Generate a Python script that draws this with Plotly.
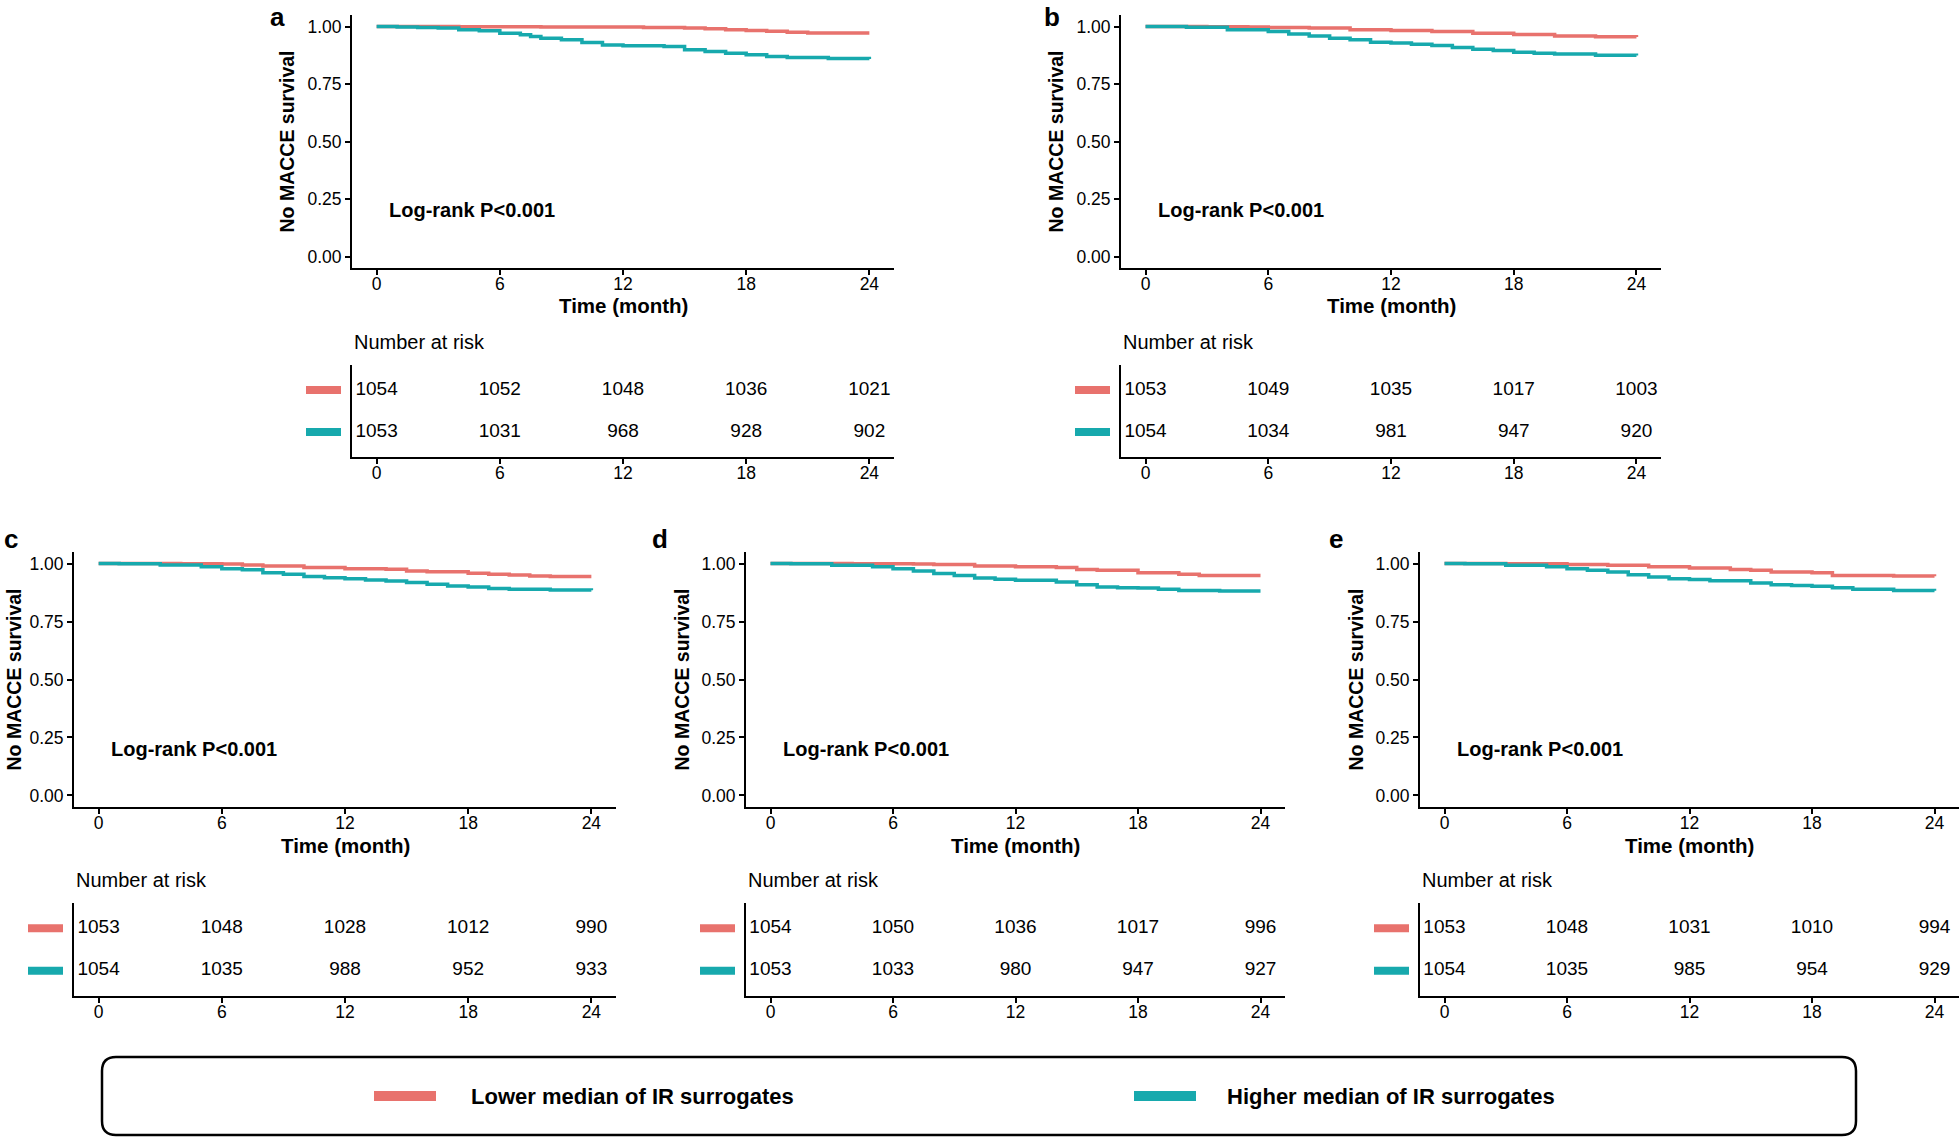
import plotly.graph_objects as go

W, H = 1960, 1138

# ---------------- data ----------------
panel_labels = ["a", "b", "c", "d", "e"]
series_names = ["Lower median of IR surrogates", "Higher median of IR surrogates"]
risk_times = [0, 6, 12, 18, 24]

a_low_t = [0, 4, 8, 13, 15, 16, 17, 18, 19, 20, 21, 24]
a_low_s = [1.000, 0.999, 0.998, 0.996, 0.993, 0.990, 0.986, 0.983, 0.979, 0.975, 0.972, 0.972]
a_high_t = [0, 1, 2, 3, 4, 5, 6, 7, 7.5, 8, 9, 10, 11, 12, 14, 15, 16, 17, 18, 19, 20, 22, 24]
a_high_s = [1.000, 0.998, 0.996, 0.993, 0.986, 0.981, 0.971, 0.964, 0.957, 0.949, 0.942, 0.930,
            0.920, 0.916, 0.913, 0.899, 0.891, 0.884, 0.877, 0.870, 0.865, 0.861, 0.859]

b_low_t = [0, 3, 5, 6, 8, 10, 12, 14, 16, 18, 20, 22, 24]
b_low_s = [1.000, 0.999, 0.998, 0.996, 0.993, 0.986, 0.983, 0.978, 0.971, 0.965, 0.959, 0.955, 0.954]
b_high_t = [0, 2, 4, 6, 7, 8, 9, 10, 11, 12, 13, 14, 15, 16, 17, 18, 19, 20, 22, 24]
b_high_s = [1.000, 0.997, 0.986, 0.978, 0.967, 0.959, 0.949, 0.942, 0.932, 0.928, 0.923, 0.917,
            0.909, 0.901, 0.896, 0.888, 0.884, 0.880, 0.875, 0.874]

c_low_t = [0, 4, 6, 7, 8, 10, 12, 14, 15, 16, 18, 19, 20, 21, 22, 24]
c_low_s = [1.000, 0.999, 0.998, 0.994, 0.990, 0.983, 0.978, 0.976, 0.968, 0.965, 0.958, 0.954,
           0.951, 0.947, 0.944, 0.944]
c_high_t = [0, 1, 3, 5, 6, 7, 8, 9, 10, 11, 12, 13, 14, 15, 16, 17, 18, 19, 20, 22, 24]
c_high_s = [1.000, 0.999, 0.994, 0.986, 0.978, 0.973, 0.961, 0.954, 0.944, 0.939, 0.935, 0.929,
            0.925, 0.918, 0.911, 0.903, 0.899, 0.893, 0.889, 0.886, 0.885]

d_low_t = [0, 4, 7, 8, 10, 12, 14, 15, 16, 18, 20, 21, 24]
d_low_s = [1.000, 0.999, 0.998, 0.996, 0.990, 0.986, 0.983, 0.975, 0.971, 0.961, 0.954, 0.949, 0.949]
d_high_t = [0, 1, 3, 5, 6, 7, 8, 9, 10, 11, 12, 14, 15, 16, 17, 18, 19, 20, 22, 24]
d_high_s = [1.000, 0.999, 0.993, 0.986, 0.978, 0.968, 0.957, 0.949, 0.938, 0.932, 0.928, 0.921,
            0.909, 0.899, 0.896, 0.895, 0.889, 0.884, 0.882, 0.882]

e_low_t = [0, 3, 6, 8, 10, 12, 14, 15, 16, 18, 19, 22, 24]
e_low_s = [1.000, 0.999, 0.996, 0.993, 0.986, 0.981, 0.975, 0.971, 0.964, 0.960, 0.949, 0.947, 0.945]
e_high_t = [0, 1, 3, 5, 6, 7, 8, 9, 10, 11, 12, 13, 15, 16, 17, 18, 19, 20, 22, 24]
e_high_s = [1.000, 0.999, 0.993, 0.986, 0.978, 0.971, 0.964, 0.952, 0.942, 0.935, 0.931, 0.926,
            0.916, 0.909, 0.906, 0.902, 0.896, 0.889, 0.884, 0.883]

a_risk_low = [1054, 1052, 1048, 1036, 1021]
a_risk_high = [1053, 1031, 968, 928, 902]
b_risk_low = [1053, 1049, 1035, 1017, 1003]
b_risk_high = [1054, 1034, 981, 947, 920]
c_risk_low = [1053, 1048, 1028, 1012, 990]
c_risk_high = [1054, 1035, 988, 952, 933]
d_risk_low = [1054, 1050, 1036, 1017, 996]
d_risk_high = [1053, 1033, 980, 947, 927]
e_risk_low = [1053, 1048, 1031, 1010, 994]
e_risk_high = [1054, 1035, 985, 954, 929]

curves = [
    (a_low_t, a_low_s, a_high_t, a_high_s),
    (b_low_t, b_low_s, b_high_t, b_high_s),
    (c_low_t, c_low_s, c_high_t, c_high_s),
    (d_low_t, d_low_s, d_high_t, d_high_s),
    (e_low_t, e_low_s, e_high_t, e_high_s),
]
risks = [
    (a_risk_low, a_risk_high), (b_risk_low, b_risk_high), (c_risk_low, c_risk_high),
    (d_risk_low, d_risk_high), (e_risk_low, e_risk_high),
]

# ---------------- style / layout ----------------
RED = "#E8726D"
TEAL = "#17A9AD"
FONT = "Liberation Sans, Arial, sans-serif"

# pixel boxes (screen coords): (x0, x1, y_top, y_bottom)
km_boxes = [(352, 894, 15, 268), (1121, 1661, 15, 268), (74, 616, 552, 807),
            (746, 1285, 552, 807), (1420, 1959, 552, 807)]
rt_boxes = [(352, 894, 365, 457), (1121, 1661, 365, 457), (74, 616, 903, 996),
            (746, 1285, 903, 996), (1420, 1959, 903, 996)]
label_pos = [(277, 0), (1052, 0), (11, 522), (660, 522), (1336, 522)]


def px(x):
    return x / W


def py(y):
    return 1 - y / H


def xd(x0, x1):
    return [px(x0), px(x1)]


def yd(y0, y1):
    return [py(y1), py(y0)]


fig = go.Figure()
layout = {}
annotations = []
shapes = []

for i in range(5):
    k = i + 1
    r = i + 6
    kx = "x" if k == 1 else f"x{k}"
    ky = "y" if k == 1 else f"y{k}"
    rx, ry = f"x{r}", f"y{r}"
    lt, ls, ht, hs = curves[i]

    fig.add_trace(go.Scatter(x=lt, y=ls, mode="lines", line=dict(color=RED, width=3.5, shape="hv"),
                             xaxis=kx, yaxis=ky, showlegend=False, name=series_names[0]))
    fig.add_trace(go.Scatter(x=ht, y=hs, mode="lines", line=dict(color=TEAL, width=3.5, shape="hv"),
                             xaxis=kx, yaxis=ky, showlegend=False, name=series_names[1]))

    low, high = risks[i]
    fig.add_trace(go.Scatter(x=risk_times, y=[2] * 5, mode="text", text=[str(v) for v in low],
                             textfont=dict(family=FONT, size=19, color="black"),
                             xaxis=rx, yaxis=ry, showlegend=False, cliponaxis=False,
                             name=series_names[0]))
    fig.add_trace(go.Scatter(x=risk_times, y=[1] * 5, mode="text", text=[str(v) for v in high],
                             textfont=dict(family=FONT, size=19, color="black"),
                             xaxis=rx, yaxis=ry, showlegend=False, cliponaxis=False,
                             name=series_names[1]))

    bx0, bx1, by0, by1 = km_boxes[i]
    axcommon = dict(showline=True, linecolor="black", linewidth=2, ticks="outside", ticklen=5,
                    tickwidth=1.5, tickcolor="black", showgrid=False, zeroline=False,
                    tickfont=dict(family=FONT, size=17.5, color="black"), fixedrange=True)
    layout["xaxis" if k == 1 else f"xaxis{k}"] = dict(
        domain=xd(bx0, bx1), anchor=ky, range=[-1.2, 25.2], tickvals=[0, 6, 12, 18, 24],
        ticklabelstandoff=-6, **axcommon)
    layout["yaxis" if k == 1 else f"yaxis{k}"] = dict(
        domain=yd(by0, by1), anchor=kx, range=[-0.05, 1.05], tickvals=[0, 0.25, 0.5, 0.75, 1.0],
        tickformat=".2f", **axcommon)

    rx0, rx1, ry0, ry1 = rt_boxes[i]
    layout[f"xaxis{r}"] = dict(domain=xd(rx0, rx1), anchor=ry, range=[-1.2, 25.2],
                               tickvals=[0, 6, 12, 18, 24], ticklabelstandoff=-6, **axcommon)
    layout[f"yaxis{r}"] = dict(domain=yd(ry0, ry1), anchor=rx, range=[0.4, 2.6], showline=True,
                               linecolor="black", linewidth=2, ticks="", showticklabels=False,
                               showgrid=False, zeroline=False, fixedrange=True)

    annotations.append(dict(text="<b>No MACCE survival</b>", xref="paper", yref="paper",
                            x=px(max(bx0 - 65, 13)), y=py((by0 + by1) / 2), textangle=-90,
                            showarrow=False, font=dict(family=FONT, size=19.5, color="black"),
                            xanchor="center", yanchor="middle"))
    annotations.append(dict(text="<b>Time (month)</b>", xref="paper", yref="paper",
                            x=px((bx0 + bx1) / 2), y=py(by1 + 38),
                            showarrow=False, font=dict(family=FONT, size=20.5, color="black"),
                            xanchor="center", yanchor="middle"))
    annotations.append(dict(text="<b>Log-rank P<0.001</b>", xref=kx, yref=ky, x=0.5, y=0.2,
                            showarrow=False, font=dict(family=FONT, size=20, color="black"),
                            xanchor="left", yanchor="middle"))
    annotations.append(dict(text=f"<b>{panel_labels[i]}</b>", xref="paper", yref="paper",
                            x=px(label_pos[i][0]), y=py(label_pos[i][1]), showarrow=False,
                            font=dict(family=FONT, size=26, color="black"),
                            xanchor="center", yanchor="top"))
    annotations.append(dict(text="Number at risk", xref="paper", yref="paper",
                            x=px(rx0), y=py(ry0 - 23), showarrow=False,
                            font=dict(family=FONT, size=20, color="black"),
                            xanchor="left", yanchor="middle"))
    for yy, col in ((2, RED), (1, TEAL)):
        shapes.append(dict(type="line", xref="paper", yref=ry, x0=px(rx0 - 46), x1=px(rx0 - 11),
                           y0=yy, y1=yy, line=dict(color=col, width=8)))

# ---------------- bottom legend ----------------
leg_items = [(374, 436, 469, RED, series_names[0]), (1134, 1196, 1225, TEAL, series_names[1])]
leg_y = 1096
for sx0, sx1, tx, col, name in leg_items:
    shapes.append(dict(type="line", xref="paper", yref="paper", x0=px(sx0), x1=px(sx1),
                       y0=py(leg_y), y1=py(leg_y), line=dict(color=col, width=10)))
    annotations.append(dict(text=f"<b>{name}</b>", xref="paper", yref="paper", x=px(tx),
                            y=py(leg_y), showarrow=False, xanchor="left", yanchor="middle",
                            font=dict(family=FONT, size=22, color="black")))

lx0, lx1, ly0, ly1, rr = px(102), px(1856), py(1057), py(1135), 14
rx_, ry_ = rr / W, rr / H
path = (f"M{lx0 + rx_},{ly0} L{lx1 - rx_},{ly0} Q{lx1},{ly0} {lx1},{ly0 - ry_} "
        f"L{lx1},{ly1 + ry_} Q{lx1},{ly1} {lx1 - rx_},{ly1} L{lx0 + rx_},{ly1} "
        f"Q{lx0},{ly1} {lx0},{ly1 + ry_} L{lx0},{ly0 - ry_} Q{lx0},{ly0} {lx0 + rx_},{ly0} Z")
shapes.append(dict(type="path", xref="paper", yref="paper", path=path,
                   line=dict(color="black", width=2.5)))

fig.update_layout(
    width=W, height=H, margin=dict(l=0, r=0, t=0, b=0),
    paper_bgcolor="white", plot_bgcolor="white",
    annotations=annotations, shapes=shapes, showlegend=False,
    **layout,
)

fig.write_html(
    "out.html",
    config={"displayModeBar": False},
    post_script="document.body.style.margin='0';document.body.style.padding='0';"
                "document.body.style.overflow='hidden';",
)
